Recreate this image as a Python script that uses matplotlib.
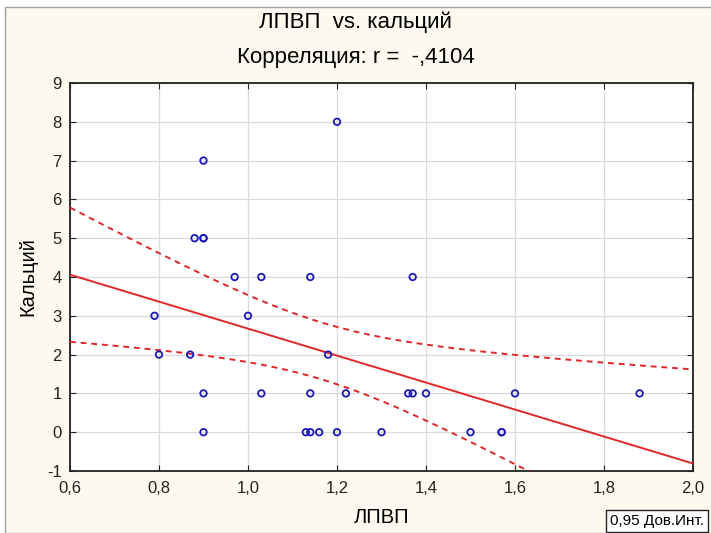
import numpy as np
import matplotlib
matplotlib.use('Agg')
import matplotlib.pyplot as plt
from matplotlib.ticker import FuncFormatter, MultipleLocator
from matplotlib.patches import Rectangle

plt.rcParams['font.family'] = ['Liberation Sans', 'DejaVu Sans']

# ── данные: ЛПВП (x) и кальций (y) ─────────────────────────────
# последние две точки совпадают с уже нарисованными (перекрываются на графике)
lpvp = [0.79, 0.80, 0.87, 0.88, 0.90, 0.90, 0.90, 0.90, 0.97, 1.00,
        1.03, 1.03, 1.13, 1.14, 1.14, 1.14, 1.16, 1.18, 1.20, 1.20,
        1.22, 1.30, 1.36, 1.37, 1.37, 1.40, 1.50, 1.57, 1.60, 1.88,
        0.90, 1.57]
calcium = [3, 2, 2, 5, 5, 7, 1, 0, 4, 3,
           4, 1, 0, 0, 4, 1, 0, 2, 8, 0,
           1, 0, 1, 1, 4, 1, 0, 0, 1, 1,
           5, 0]

X_LIM = (0.6, 2.0)
Y_LIM = (-1, 9)
T_975 = 2.042   # t(0.975, df=30)

x = np.array(lpvp)
y = np.array(calcium)
n = len(x)
b, a = np.polyfit(x, y, 1)
resid = y - (a + b * x)
s = np.sqrt(np.sum(resid ** 2) / (n - 2))
sxx = np.sum((x - x.mean()) ** 2)

xx = np.linspace(X_LIM[0], X_LIM[1], 200)
yy = a + b * xx
half = T_975 * s * np.sqrt(1 / n + (xx - x.mean()) ** 2 / sxx)

BG = '#FCF9EF'
RED = '#E0282A'
BLUE = '#1A1AB8'

fig = plt.figure(figsize=(7.11, 5.33), dpi=100)
fig.patch.set_facecolor('white')
fig.patches.append(Rectangle((5 / 711, 0), 1, 1 - 7 / 533, transform=fig.transFigure,
                             facecolor=BG, edgecolor='#A0A0A0', linewidth=1.0, zorder=-10))

ax = fig.add_axes([70 / 711, 62 / 533, 623 / 711, 388 / 533])
ax.set_facecolor('white')

ax.plot(xx, yy, color=RED, linewidth=1.4, zorder=3)
ax.plot(xx, yy + half, color=RED, linewidth=1.4, linestyle=(0, (3, 2.5)), zorder=3)
ax.plot(xx, yy - half, color=RED, linewidth=1.4, linestyle=(0, (3, 2.5)), zorder=3)
ax.scatter(x, y, s=22, facecolors='none', edgecolors=BLUE, linewidths=1.3, zorder=4)

ax.set_xlim(*X_LIM)
ax.set_ylim(*Y_LIM)
ax.xaxis.set_major_locator(MultipleLocator(0.2))
ax.yaxis.set_major_locator(MultipleLocator(1))
ax.xaxis.set_major_formatter(FuncFormatter(lambda v, p: f'{v:.1f}'.replace('.', ',')))
ax.yaxis.set_major_formatter(FuncFormatter(lambda v, p: f'{v:.0f}'))
ax.grid(True, color='#DADADA', linewidth=0.9)
ax.set_axisbelow(True)
ax.tick_params(direction='in', top=True, right=True, length=4, labelsize=12, colors='#222222')
ax.tick_params(axis='x', pad=7)
ax.tick_params(axis='y', pad=6)
for sp in ax.spines.values():
    sp.set_color('#222222')
    sp.set_linewidth(1.3)

ax.set_xlabel('ЛПВП', fontsize=14.5, labelpad=9)
ax.set_ylabel('Кальций', fontsize=14.5, labelpad=7)

fig.text(0.5, 1 - 22 / 533, 'ЛПВП  vs. кальций', ha='center', va='center', fontsize=16)
fig.text(0.5, 1 - 57 / 533, 'Корреляция: r =  -,4104', ha='center', va='center', fontsize=16)

fig.text(657 / 711, 1 - 521 / 533, '0,95 Дов.Инт.', ha='center', va='center', fontsize=11,
         bbox=dict(boxstyle='square,pad=0.25', facecolor='white', edgecolor='#222222', linewidth=1.0))

fig.savefig('out.png', dpi=100, facecolor=fig.get_facecolor())
